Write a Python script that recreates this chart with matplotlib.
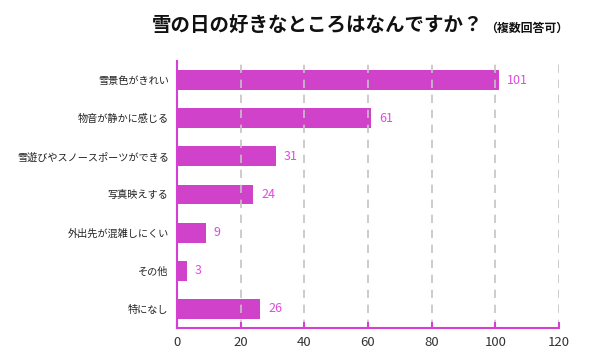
import matplotlib
matplotlib.use("Agg")
import matplotlib.pyplot as plt

plt.rcParams['font.family'] = ['Noto Sans CJK JP', 'DejaVu Sans']

categories = ["雪景色がきれい", "物音が静かに感じる", "雪遊びやスノースポーツができる",
              "写真映えする", "外出先が混雑しにくい", "その他", "特になし"]
values = [101, 61, 31, 24, 9, 3, 26]
xticks = [0, 20, 40, 60, 80, 100, 120]

bar_color = "#CF42C9"
axis_color = "#D63FD6"
label_color = "#E04ADF"

fig = plt.figure(figsize=(6, 3.6), dpi=100)
ax = fig.add_axes([0.295, 0.089, 0.9317 - 0.295, 0.8306 - 0.089])

y = list(range(len(categories)))
ax.barh(y, values, height=0.52, color=bar_color, zorder=1)
ax.set_ylim(len(categories) - 0.5, -0.5)
ax.set_xlim(0, 120)
ax.set_xticks(xticks)
ax.set_xticklabels([str(t) for t in xticks], fontsize=9.5, color="#333333")
ax.set_yticks(y)
ax.set_yticklabels(categories, fontsize=7.3, color="#222222")

for v, yy in zip(values, y):
    ax.annotate(str(v), (v, yy), xytext=(6, 0), textcoords="offset points",
                va="center", ha="left", fontsize=9, color=label_color)

ax.grid(axis="x", color="#C4C4C4", linestyle=(0, (5, 4)), linewidth=1.2, zorder=2)
ax.set_axisbelow(False)

for s in ["top", "right"]:
    ax.spines[s].set_visible(False)
for s in ["left", "bottom"]:
    ax.spines[s].set_color(axis_color)
    ax.spines[s].set_linewidth(1.5)
    ax.spines[s].set_zorder(3)

ax.tick_params(axis="x", direction="in", length=4, width=1.5, color=axis_color, pad=6)
ax.tick_params(axis="y", length=0, pad=6)

fig.text(0.253, 0.928, "雪の日の好きなところはなんですか？", fontsize=14, fontweight="bold",
         color="#111111", ha="left", va="center")
fig.text(0.808, 0.922, "（複数回答可）", fontsize=8.6, fontweight="bold",
         color="#111111", ha="left", va="center")

fig.savefig("out.png", dpi=100)
